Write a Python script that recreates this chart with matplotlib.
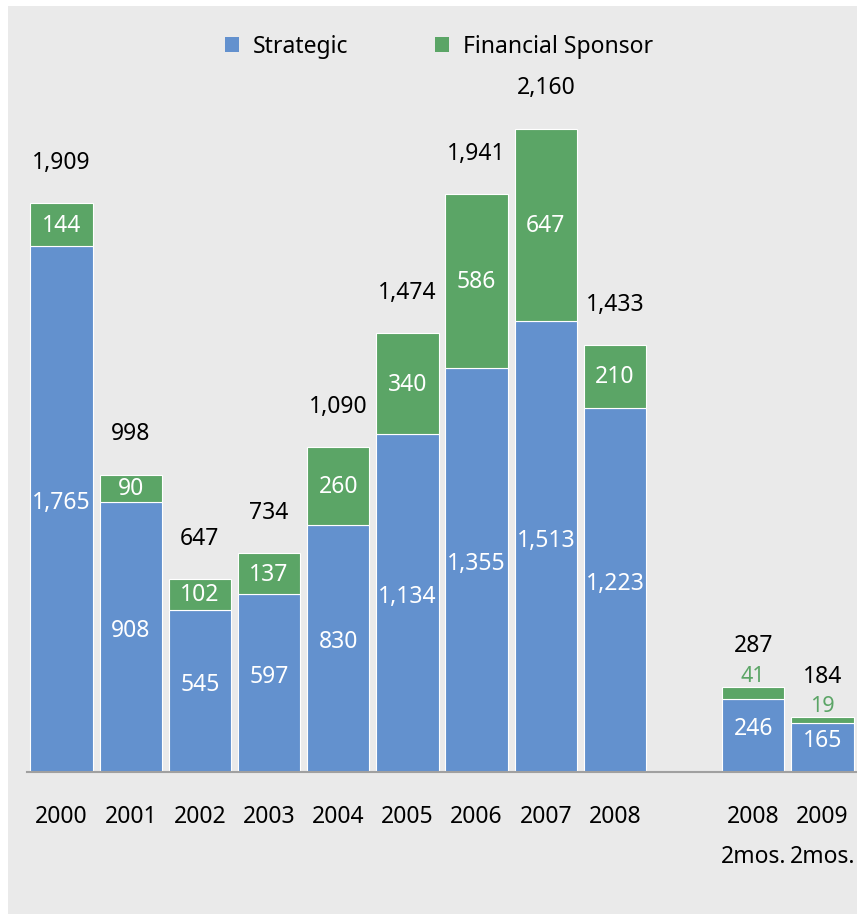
import matplotlib
matplotlib.use("Agg")
import matplotlib.pyplot as plt
from matplotlib.patches import Rectangle, Patch

# data
years = ["2000", "2001", "2002", "2003", "2004", "2005", "2006", "2007", "2008",
         "2008\n2mos.", "2009\n2mos."]
strategic = [1765, 908, 545, 597, 830, 1134, 1355, 1513, 1223, 246, 165]
sponsor = [144, 90, 102, 137, 260, 340, 586, 647, 210, 41, 19]
totals = [1909, 998, 647, 734, 1090, 1474, 1941, 2160, 1433, 287, 184]
xpos = [0, 1, 2, 3, 4, 5, 6, 7, 8, 10, 11]

BLUE = "#6391ce"
GREEN = "#5ba566"
BG = "#eaeaea"
FS = 16.5

plt.rcParams['font.family'] = ['Noto Sans', 'DejaVu Sans']

fig = plt.figure(figsize=(8.57, 9.14), dpi=100)
fig.patch.set_facecolor("white")
# grey panel (white strip on left and top)
fig.patches.append(Rectangle((8 / 857, 0), 1 - 8 / 857, 1 - 6 / 914,
                             transform=fig.transFigure, facecolor=BG,
                             edgecolor="none", zorder=-10))

ax = fig.add_axes([27 / 857, 142 / 914, 1 - 27 / 857, 685 / 914])
ax.set_facecolor("none")
ax.set_xlim(-0.5, 11.5)
ax.set_ylim(0, 2300)

ax.bar(xpos, strategic, width=0.9, color=BLUE, edgecolor="white", linewidth=0.8)
ax.bar(xpos, sponsor, width=0.9, bottom=strategic, color=GREEN,
       edgecolor="white", linewidth=0.8)

for i, x in enumerate(xpos):
    s, f, t = strategic[i], sponsor[i], totals[i]
    ax.text(x, s / 2 + 20, f"{s:,}", ha="center", va="center", color="white", fontsize=FS)
    if f >= 80:
        ax.text(x, s + f / 2 - 3, f"{f:,}", ha="center", va="center",
                color="white", fontsize=FS)
    else:
        ax.annotate(f"{f:,}", (x, s + f), xytext=(0, 0), textcoords="offset points",
                    ha="center", va="bottom", color=GREEN, fontsize=FS - 1)
    ax.annotate(f"{t:,}", (x, t), xytext=(0, 29), textcoords="offset points",
                ha="center", va="center", color="black", fontsize=FS)

for side in ["top", "right", "left"]:
    ax.spines[side].set_visible(False)
ax.spines["bottom"].set_color("#a0a0a0")
ax.spines["bottom"].set_linewidth(1.5)
ax.set_yticks([])
ax.set_xticks(xpos)
ax.set_xticklabels(years, fontsize=FS, linespacing=1.85)
ax.tick_params(axis="x", length=0, pad=24)

handles = [Patch(facecolor=BLUE, label="Strategic"),
           Patch(facecolor=GREEN, label="Financial Sponsor")]
fig.legend(handles=handles, loc="center", bbox_to_anchor=(0.512, 0.949), ncol=2,
           frameon=False, fontsize=FS, handlelength=0.6, handleheight=0.6,
           handletextpad=0.6, columnspacing=3.8)

fig.savefig("out.png", dpi=100, facecolor=fig.get_facecolor())
